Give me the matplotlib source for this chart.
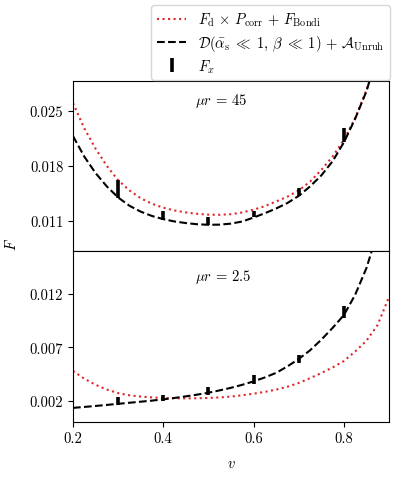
import numpy as np
import matplotlib
matplotlib.use("Agg")
import matplotlib.pyplot as plt

plt.rcParams["mathtext.fontset"] = "cm"
plt.rcParams["font.family"] = "serif"
plt.rcParams["font.serif"] = ["cmr10", "DejaVu Serif"]
plt.rcParams["axes.unicode_minus"] = False
plt.rcParams["axes.formatter.use_mathtext"] = True
plt.rcParams["font.size"] = 10.5

v = [0.2, 0.225, 0.25, 0.275, 0.3, 0.325, 0.35, 0.375, 0.4, 0.425, 0.45, 0.475,
     0.5, 0.525, 0.55, 0.575, 0.6, 0.625, 0.65, 0.675, 0.7, 0.725, 0.75, 0.775,
     0.8, 0.825, 0.85, 0.875, 0.9]

# mu r = 45
theory_45 = [0.0218, 0.0192, 0.0171, 0.0154, 0.0140, 0.01295, 0.0122, 0.01165,
             0.01125, 0.01095, 0.01075, 0.0106, 0.01053, 0.01055, 0.01068, 0.01095,
             0.01145, 0.0120, 0.0126, 0.0133, 0.0142, 0.0154, 0.0168, 0.0186,
             0.0210, 0.0240, 0.0275, 0.0322, 0.0385]
bondi_45 = [0.0260, 0.0228, 0.0202, 0.0180, 0.0162, 0.0149, 0.0139, 0.0132,
            0.0127, 0.01235, 0.0121, 0.01192, 0.01182, 0.0118, 0.01188, 0.0121,
            0.01245, 0.0129, 0.0135, 0.0141, 0.0149, 0.0160, 0.0175, 0.0192,
            0.0213, 0.0241, 0.0276, 0.0322, 0.0385]

# mu r = 2.5
theory_25 = [0.00132, 0.00141, 0.0015, 0.0016, 0.0017, 0.0018, 0.0019, 0.0020,
             0.00212, 0.00225, 0.0024, 0.00256, 0.00274, 0.00296, 0.0032, 0.00348,
             0.0038, 0.00417, 0.0046, 0.0052, 0.0059, 0.0067, 0.0077, 0.0088,
             0.0100, 0.0119, 0.0144, 0.0178, 0.0225]
bondi_25 = [0.00478, 0.00405, 0.00348, 0.00303, 0.0027, 0.0025, 0.00238, 0.0023,
            0.00225, 0.00222, 0.00221, 0.00222, 0.00225, 0.0023, 0.00238, 0.0025,
            0.00265, 0.00282, 0.00303, 0.0033, 0.00365, 0.0041, 0.00458, 0.0051,
            0.0057, 0.0066, 0.0076, 0.0091, 0.0117]

v_sim = [0.3, 0.4, 0.5, 0.6, 0.7, 0.8]
fx_45 = [0.01505, 0.0117, 0.0110, 0.01185, 0.0147, 0.0219]
err_45 = [0.00116, 0.00054, 0.00047, 0.00038, 0.00047, 0.0009]
fx_25 = [0.00195, 0.00228, 0.00292, 0.0040, 0.0059, 0.0103]
err_25 = [0.0004, 0.00028, 0.00036, 0.00042, 0.0004, 0.0006]

fig = plt.figure(figsize=(3.99, 4.81), dpi=100)
W, H = 399, 481
left, right = 73 / W, 389 / W
ax1 = fig.add_axes([left, 1 - 252 / H, right - left, 170 / H])
ax2 = fig.add_axes([left, 1 - 423 / H, right - left, 171 / H], sharex=ax1)

for ax, th, bo, fx, er in [(ax1, theory_45, bondi_45, fx_45, err_45),
                           (ax2, theory_25, bondi_25, fx_25, err_25)]:
    ax.plot(v, bo, ":", color="#e0262a", lw=1.5,
            label=r"$F_{\rm d}\,\times\,P_{\rm corr}\,+\,F_{\rm Bondi}$")
    ax.plot(v, th, "--", color="black", lw=1.5,
            label=r"$\mathcal{D}(\bar{\alpha}_{\rm s}\;\ll\;1,\,\beta\;\ll\;1)\,+\,\mathcal{A}_{\rm Unruh}$")
    ax.errorbar(v_sim, fx, yerr=er, fmt="none", ecolor="black", elinewidth=2.6,
                capsize=0, label=r"$F_x$")

ax1.set_xlim(0.2, 0.9)
ax1.set_ylim(0.0072, 0.0288)
ax1.set_yticks([0.011, 0.018, 0.025])
ax1.set_yticklabels(["0.011", "0.018", "0.025"])
ax1.tick_params(axis="x", bottom=False, labelbottom=False)

ax2.set_ylim(0, 0.016)
ax2.set_yticks([0.002, 0.007, 0.012])
ax2.set_yticklabels(["0.002", "0.007", "0.012"])
ax2.set_xticks([0.2, 0.4, 0.6, 0.8])
ax2.set_xticklabels(["0.2", "0.4", "0.6", "0.8"])
ax2.set_xlabel(r"$v$", labelpad=8)

ax1.text(0.386, 0.89, r"$\mu r\,=\,45$", transform=ax1.transAxes, va="center")
ax2.text(0.386, 0.856, r"$\mu r\,=\,2.5$", transform=ax2.transAxes, va="center")

fig.text(12 / W, 1 - 245 / H, r"$F$", rotation=90, va="center", ha="center")

handles, labels = ax1.get_legend_handles_labels()
fig.legend(handles, labels, loc="upper right", bbox_to_anchor=(390 / W, 1 - 6 / H),
           borderaxespad=0, fontsize=10.5, labelspacing=0.3)

plt.savefig("out.png", dpi=100)
